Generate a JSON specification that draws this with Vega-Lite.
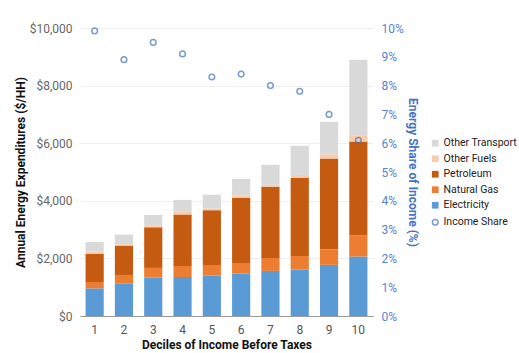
{
  "$schema": "https://vega.github.io/schema/vega-lite/v6.json",
  "width": 293,
  "height": 288,
  "autosize": "none",
  "padding": {"left": 80, "top": 28, "right": 146, "bottom": 37},
  "background": "white",
  "config": {
    "font": "Roboto",
    "view": {"stroke": null},
    "axis": {"labelFont": "Roboto", "titleFont": "Roboto"}
  },
  "data": {
    "values": [
      {"decile": 1, "Electricity": 960, "Natural Gas": 220, "Petroleum": 975, "Other Fuels": 80, "Other Transport": 335, "share": 9.9},
      {"decile": 2, "Electricity": 1135, "Natural Gas": 290, "Petroleum": 1020, "Other Fuels": 45, "Other Transport": 335, "share": 8.9},
      {"decile": 3, "Electricity": 1335, "Natural Gas": 335, "Petroleum": 1410, "Other Fuels": 70, "Other Transport": 360, "share": 9.5},
      {"decile": 4, "Electricity": 1355, "Natural Gas": 385, "Petroleum": 1785, "Other Fuels": 90, "Other Transport": 415, "share": 9.1},
      {"decile": 5, "Electricity": 1400, "Natural Gas": 375, "Petroleum": 1900, "Other Fuels": 60, "Other Transport": 475, "share": 8.3},
      {"decile": 6, "Electricity": 1470, "Natural Gas": 370, "Petroleum": 2270, "Other Fuels": 70, "Other Transport": 580, "share": 8.4},
      {"decile": 7, "Electricity": 1565, "Natural Gas": 450, "Petroleum": 2470, "Other Fuels": 70, "Other Transport": 695, "share": 8.0},
      {"decile": 8, "Electricity": 1610, "Natural Gas": 475, "Petroleum": 2710, "Other Fuels": 105, "Other Transport": 1010, "share": 7.8},
      {"decile": 9, "Electricity": 1775, "Natural Gas": 540, "Petroleum": 3150, "Other Fuels": 150, "Other Transport": 1125, "share": 7.0},
      {"decile": 10, "Electricity": 2065, "Natural Gas": 740, "Petroleum": 3255, "Other Fuels": 220, "Other Transport": 2620, "share": 6.1}
    ]
  },
  "encoding": {
    "x": {
      "field": "decile",
      "type": "ordinal",
      "scale": {"paddingInner": 0.38, "paddingOuter": 0.19},
      "axis": {
        "title": "Deciles of Income Before Taxes",
        "titleFontSize": 12,
        "titleFontWeight": "bold",
        "titleColor": "#111",
        "titlePadding": 4,
        "labelAngle": 0,
        "labelFontSize": 12,
        "labelColor": "#555",
        "labelPadding": 8,
        "ticks": false,
        "domainColor": "#999",
        "grid": false
      }
    }
  },
  "layer": [
    {
      "transform": [
        {"fold": ["Electricity", "Natural Gas", "Petroleum", "Other Fuels", "Other Transport"], "as": ["series", "amount"]},
        {"calculate": "indexof(['Electricity','Natural Gas','Petroleum','Other Fuels','Other Transport'], datum.series)", "as": "stackIndex"}
      ],
      "mark": {"type": "bar"},
      "encoding": {
        "y": {
          "field": "amount",
          "type": "quantitative",
          "stack": "zero",
          "scale": {"domain": [0, 10000]},
          "axis": {
            "title": "Annual Energy Expenditures ($/HH)",
            "titleFontSize": 12,
            "titleFontWeight": "bold",
            "titleColor": "#111",
            "titlePadding": 2,
            "format": "$,.0f",
            "values": [0, 2000, 4000, 6000, 8000, 10000],
            "labelFontSize": 12,
            "labelColor": "#666",
            "labelPadding": 8,
            "ticks": false,
            "domain": false,
            "gridColor": "#eeeeee"
          }
        },
        "color": {
          "field": "series",
          "type": "nominal",
          "scale": {
            "domain": ["Other Transport", "Other Fuels", "Petroleum", "Natural Gas", "Electricity"],
            "range": ["#D9D9D9", "#F8CBAD", "#C55A11", "#ED7D31", "#5B9BD5"]
          },
          "legend": {
            "title": null,
            "orient": "none",
            "legendX": 350,
            "legendY": 110,
            "labelFontSize": 10.5,
            "labelColor": "#222",
            "labelLimit": 200,
            "symbolType": "square",
            "symbolSize": 45,
            "rowPadding": 4.5,
            "labelOffset": 3
          }
        },
        "order": {"field": "stackIndex", "type": "quantitative"}
      }
    },
    {
      "mark": {"type": "point", "filled": false, "strokeWidth": 1.5, "size": 32, "color": "#4472C4"},
      "encoding": {
        "y": {
          "field": "share",
          "type": "quantitative",
          "scale": {"domain": [0, 10]},
          "axis": {
            "orient": "right",
            "title": "Energy Share of Income (%)",
            "titleFontSize": 12,
            "titleFontWeight": "bold",
            "titleColor": "#4472C4",
            "titlePadding": 2,
            "labelExpr": "datum.value + '%'",
            "values": [0, 1, 2, 3, 4, 5, 6, 7, 8, 9, 10],
            "labelFontSize": 12,
            "labelColor": "#5B7FD6",
            "labelPadding": 8,
            "ticks": false,
            "domain": false,
            "grid": false
          }
        },
        "shape": {
          "datum": "Income Share",
          "scale": {"domain": ["Income Share"], "range": ["circle"]},
          "legend": {
            "title": null,
            "orient": "none",
            "legendX": 350,
            "legendY": 189,
            "labelFontSize": 10.5,
            "labelColor": "#222",
            "labelLimit": 200,
            "symbolSize": 32,
            "symbolStrokeWidth": 1.5,
            "symbolStrokeColor": "#4472C4",
            "symbolFillColor": "transparent",
            "labelOffset": 3
          }
        }
      }
    }
  ],
  "resolve": {"scale": {"y": "independent"}}
}
